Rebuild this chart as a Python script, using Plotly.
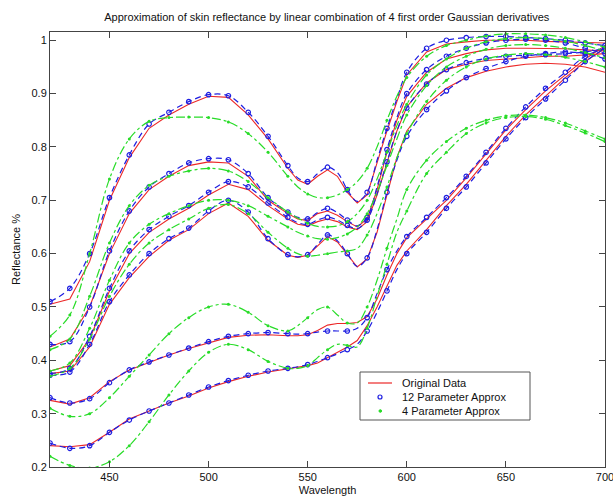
import plotly.graph_objects as go

# Wavelength grid (nm)
wavelength = [420, 430, 440, 450, 460, 470, 480, 490, 500, 510, 520, 530, 540,
              545, 550, 555, 560, 565, 570, 575, 580, 585, 590, 595, 600,
              610, 620, 630, 640, 650, 660, 670, 680, 690, 700]

# Original data (6 skin spectra)
orig_a = [0.505, 0.515, 0.585, 0.700, 0.780, 0.835, 0.860, 0.880, 0.895, 0.893, 0.860, 0.815, 0.760,
          0.738, 0.730, 0.745, 0.757, 0.745, 0.715, 0.695, 0.710, 0.770, 0.830, 0.885, 0.935,
          0.978, 0.993, 0.997, 1.000, 1.000, 1.000, 0.998, 0.997, 0.995, 0.995]
orig_b = [0.425, 0.440, 0.500, 0.600, 0.675, 0.720, 0.745, 0.765, 0.772, 0.770, 0.745, 0.700, 0.675,
          0.665, 0.662, 0.675, 0.680, 0.672, 0.660, 0.650, 0.665, 0.720, 0.790, 0.850, 0.895,
          0.940, 0.965, 0.975, 0.982, 0.985, 0.985, 0.985, 0.984, 0.982, 0.980]
orig_c = [0.380, 0.390, 0.440, 0.530, 0.600, 0.640, 0.665, 0.685, 0.710, 0.730, 0.720, 0.690, 0.665,
          0.655, 0.652, 0.660, 0.665, 0.660, 0.650, 0.645, 0.660, 0.710, 0.770, 0.830, 0.875,
          0.920, 0.945, 0.955, 0.962, 0.965, 0.967, 0.970, 0.970, 0.972, 0.975]
orig_d = [0.375, 0.380, 0.425, 0.505, 0.555, 0.595, 0.625, 0.645, 0.675, 0.695, 0.670, 0.625, 0.597,
          0.593, 0.597, 0.615, 0.632, 0.622, 0.598, 0.575, 0.590, 0.640, 0.710, 0.780, 0.830,
          0.880, 0.910, 0.930, 0.942, 0.950, 0.955, 0.957, 0.955, 0.950, 0.940]
orig_e = [0.325, 0.318, 0.330, 0.360, 0.382, 0.396, 0.410, 0.422, 0.433, 0.443, 0.447, 0.448, 0.446,
          0.446, 0.448, 0.456, 0.466, 0.469, 0.469, 0.471, 0.482, 0.515, 0.560, 0.600, 0.630,
          0.665, 0.700, 0.742, 0.788, 0.832, 0.870, 0.905, 0.935, 0.965, 0.990]
orig_f = [0.240, 0.238, 0.242, 0.265, 0.290, 0.305, 0.320, 0.333, 0.348, 0.360, 0.370, 0.378, 0.384,
          0.387, 0.390, 0.395, 0.405, 0.415, 0.425, 0.437, 0.465, 0.500, 0.540, 0.578, 0.605,
          0.645, 0.690, 0.730, 0.775, 0.820, 0.860, 0.895, 0.930, 0.960, 0.985]

# 12 parameter approximation
p12_a = [0.510, 0.535, 0.600, 0.705, 0.785, 0.843, 0.865, 0.885, 0.898, 0.896, 0.865, 0.820, 0.765,
         0.742, 0.735, 0.750, 0.762, 0.752, 0.720, 0.698, 0.715, 0.775, 0.835, 0.890, 0.940,
         0.985, 1.000, 1.005, 1.007, 1.007, 1.005, 1.003, 1.000, 0.995, 0.990]
p12_b = [0.430, 0.435, 0.500, 0.605, 0.680, 0.725, 0.750, 0.770, 0.778, 0.776, 0.750, 0.705, 0.678,
         0.668, 0.665, 0.677, 0.685, 0.677, 0.663, 0.652, 0.668, 0.725, 0.795, 0.855, 0.900,
         0.945, 0.970, 0.985, 0.995, 1.000, 1.002, 1.000, 0.995, 0.985, 0.975]
p12_c = [0.375, 0.385, 0.445, 0.535, 0.605, 0.645, 0.670, 0.690, 0.715, 0.735, 0.725, 0.695, 0.668,
         0.658, 0.655, 0.663, 0.668, 0.663, 0.653, 0.647, 0.663, 0.712, 0.772, 0.830, 0.873,
         0.918, 0.945, 0.958, 0.966, 0.970, 0.972, 0.973, 0.975, 0.978, 0.985]
p12_d = [0.372, 0.378, 0.430, 0.510, 0.560, 0.600, 0.628, 0.648, 0.680, 0.700, 0.678, 0.628, 0.598,
         0.594, 0.598, 0.617, 0.635, 0.624, 0.600, 0.576, 0.592, 0.645, 0.715, 0.775, 0.820,
         0.870, 0.905, 0.930, 0.947, 0.960, 0.970, 0.975, 0.978, 0.975, 0.965]
p12_e = [0.330, 0.320, 0.328, 0.358, 0.382, 0.397, 0.410, 0.423, 0.435, 0.445, 0.450, 0.452, 0.450,
         0.449, 0.450, 0.453, 0.455, 0.455, 0.455, 0.460, 0.480, 0.525, 0.570, 0.605, 0.632,
         0.668, 0.705, 0.745, 0.790, 0.835, 0.875, 0.910, 0.940, 0.970, 0.985]
p12_f = [0.245, 0.235, 0.240, 0.265, 0.288, 0.305, 0.320, 0.335, 0.350, 0.362, 0.372, 0.380, 0.385,
         0.388, 0.392, 0.398, 0.405, 0.412, 0.420, 0.430, 0.455, 0.490, 0.530, 0.570, 0.600,
         0.640, 0.685, 0.725, 0.770, 0.815, 0.855, 0.890, 0.925, 0.960, 0.985]

# 4 parameter approximation
p4_a = [0.445, 0.485, 0.600, 0.740, 0.815, 0.848, 0.855, 0.856, 0.855, 0.847, 0.825, 0.790, 0.745,
        0.725, 0.712, 0.705, 0.705, 0.710, 0.720, 0.735, 0.760, 0.800, 0.850, 0.895, 0.930,
        0.970, 0.990, 1.000, 1.008, 1.012, 1.012, 1.010, 1.005, 0.997, 0.987]
p4_b = [0.420, 0.440, 0.520, 0.620, 0.690, 0.728, 0.745, 0.755, 0.760, 0.755, 0.735, 0.705, 0.678,
        0.667, 0.657, 0.651, 0.650, 0.652, 0.660, 0.675, 0.700, 0.740, 0.790, 0.840, 0.880,
        0.935, 0.965, 0.985, 0.997, 1.003, 1.005, 1.003, 0.998, 0.990, 0.980]
p4_c = [0.380, 0.395, 0.460, 0.550, 0.620, 0.655, 0.675, 0.690, 0.700, 0.700, 0.690, 0.670, 0.650,
        0.640, 0.633, 0.628, 0.627, 0.630, 0.637, 0.650, 0.675, 0.715, 0.765, 0.815, 0.860,
        0.915, 0.950, 0.970, 0.983, 0.990, 0.992, 0.990, 0.985, 0.977, 0.967]
p4_d = [0.370, 0.385, 0.440, 0.520, 0.580, 0.620, 0.645, 0.665, 0.685, 0.692, 0.675, 0.640, 0.610,
        0.600, 0.595, 0.597, 0.600, 0.603, 0.605, 0.610, 0.635, 0.675, 0.725, 0.780, 0.825,
        0.885, 0.925, 0.950, 0.965, 0.972, 0.975, 0.973, 0.968, 0.960, 0.950]
p4_e = [0.310, 0.295, 0.300, 0.330, 0.370, 0.410, 0.450, 0.480, 0.500, 0.505, 0.490, 0.465, 0.455,
        0.465, 0.480, 0.495, 0.500, 0.485, 0.470, 0.470, 0.500, 0.550, 0.610, 0.665, 0.720,
        0.775, 0.810, 0.835, 0.850, 0.858, 0.860, 0.855, 0.845, 0.830, 0.815]
p4_f = [0.220, 0.203, 0.198, 0.210, 0.240, 0.285, 0.335, 0.380, 0.415, 0.430, 0.420, 0.398, 0.385,
        0.385, 0.390, 0.405, 0.420, 0.430, 0.428, 0.425, 0.460, 0.520, 0.580, 0.640, 0.680,
        0.750, 0.790, 0.825, 0.845, 0.855, 0.857, 0.852, 0.840, 0.826, 0.810]

legend_labels = ["Original Data", "12 Parameter Approx", "4 Parameter Approx"]

orig_all = [orig_a, orig_b, orig_c, orig_d, orig_e, orig_f]
p12_all = [p12_a, p12_b, p12_c, p12_d, p12_e, p12_f]
p4_all = [p4_a, p4_b, p4_c, p4_d, p4_e, p4_f]

RED = "rgb(236,40,40)"
BLUE = "rgb(30,30,225)"
GREEN = "rgb(40,220,40)"

W, H = 613, 503
ML, MR, MT, MB = 50, 8, 32, 36
PW, PH = W - ML - MR, H - MT - MB


def px_to_paper(px, py):
    return (px - ML) / PW, (H - MB - py) / PH


# marker subset: every 10 nm
mk_idx = [i for i, w in enumerate(wavelength) if w % 10 == 0]
mk_w = [wavelength[i] for i in mk_idx]

fig = go.Figure()

for k, ys in enumerate(orig_all):
    fig.add_trace(go.Scatter(x=wavelength, y=ys, mode="lines",
                             line=dict(color=RED, width=1.1),
                             name=legend_labels[0], showlegend=False))

for k, ys in enumerate(p12_all):
    fig.add_trace(go.Scatter(x=wavelength, y=ys, mode="lines",
                             line=dict(color=BLUE, width=1.2, dash="6px,4px", shape="spline"),
                             showlegend=False, hoverinfo="skip"))
    fig.add_trace(go.Scatter(x=mk_w, y=[ys[i] for i in mk_idx], mode="markers",
                             marker=dict(symbol="circle-open", size=4.5, color=BLUE,
                                         line=dict(width=1.2, color=BLUE)),
                             name=legend_labels[1], showlegend=False))

for k, ys in enumerate(p4_all):
    fig.add_trace(go.Scatter(x=wavelength, y=ys, mode="lines",
                             line=dict(color=GREEN, width=1.2, dash="dashdot", shape="spline"),
                             showlegend=False, hoverinfo="skip"))
    fig.add_trace(go.Scatter(x=mk_w, y=[ys[i] for i in mk_idx], mode="markers",
                             marker=dict(symbol="circle", size=3, color=GREEN),
                             name=legend_labels[2], showlegend=False))

# ---- hand-built legend box (compact, like the original) ----
shapes = []
annotations = []
x0, y0 = px_to_paper(360, 372)
x1, y1 = px_to_paper(530, 420)
shapes.append(dict(type="rect", xref="paper", yref="paper", x0=x0, y0=y1, x1=x1, y1=y0,
                   line=dict(color="#555", width=1), fillcolor="white", layer="above"))
row_y = [383, 397, 411]
# red line sample
lx0, ly = px_to_paper(368, row_y[0])
lx1, _ = px_to_paper(392, row_y[0])
shapes.append(dict(type="line", xref="paper", yref="paper", x0=lx0, x1=lx1, y0=ly, y1=ly,
                   line=dict(color=RED, width=1.2), layer="above"))
# blue circle sample
cx0, cy0 = px_to_paper(378, row_y[1] - 2)
cx1, cy1 = px_to_paper(382, row_y[1] + 2)
shapes.append(dict(type="circle", xref="paper", yref="paper", x0=cx0, x1=cx1, y0=cy1, y1=cy0,
                   line=dict(color=BLUE, width=1.2), layer="above"))
# green dot sample
gx0, gy0 = px_to_paper(379, row_y[2] - 1.3)
gx1, gy1 = px_to_paper(381.6, row_y[2] + 1.3)
shapes.append(dict(type="circle", xref="paper", yref="paper", x0=gx0, x1=gx1, y0=gy1, y1=gy0,
                   line=dict(color=GREEN, width=1), fillcolor=GREEN, layer="above"))
for lab, ry in zip(legend_labels, row_y):
    tx, ty = px_to_paper(400, ry)
    annotations.append(dict(text=lab, xref="paper", yref="paper", x=tx, y=ty,
                            xanchor="left", yanchor="middle", showarrow=False,
                            font=dict(size=11, color="#111")))

axis_common = dict(showgrid=False, zeroline=False, showline=True, linecolor="#444",
                   linewidth=1, mirror="ticks", ticks="inside", ticklen=6,
                   tickcolor="#444", tickfont=dict(size=11, color="#111"),
                   automargin=False)

fig.update_layout(
    width=W, height=H,
    margin=dict(l=ML, r=MR, t=MT, b=MB),
    paper_bgcolor="white", plot_bgcolor="white",
    font=dict(family="Liberation Sans, Arial, sans-serif", size=11, color="#111"),
    title=dict(text="Approximation of skin reflectance by linear combination of 4 first order Gaussian derivatives",
               x=0.533, xanchor="center", y=1 - 17 / H, yanchor="middle", font=dict(size=11)),
    xaxis=dict(range=[420, 700], tickvals=[450, 500, 550, 600, 650, 700],
               ticklabeloverflow="allow",
               title=dict(text="Wavelength", standoff=4, font=dict(size=11)), **axis_common),
    yaxis=dict(range=[0.2, 1.0155], dtick=0.1, tick0=0.2,
               title=dict(text="Reflectance %", standoff=8, font=dict(size=11)), **axis_common),
    shapes=shapes,
    annotations=annotations,
    showlegend=False,
)

fig.write_html("out.html", config={"displayModeBar": False},
               post_script="document.body.style.margin='0';")
